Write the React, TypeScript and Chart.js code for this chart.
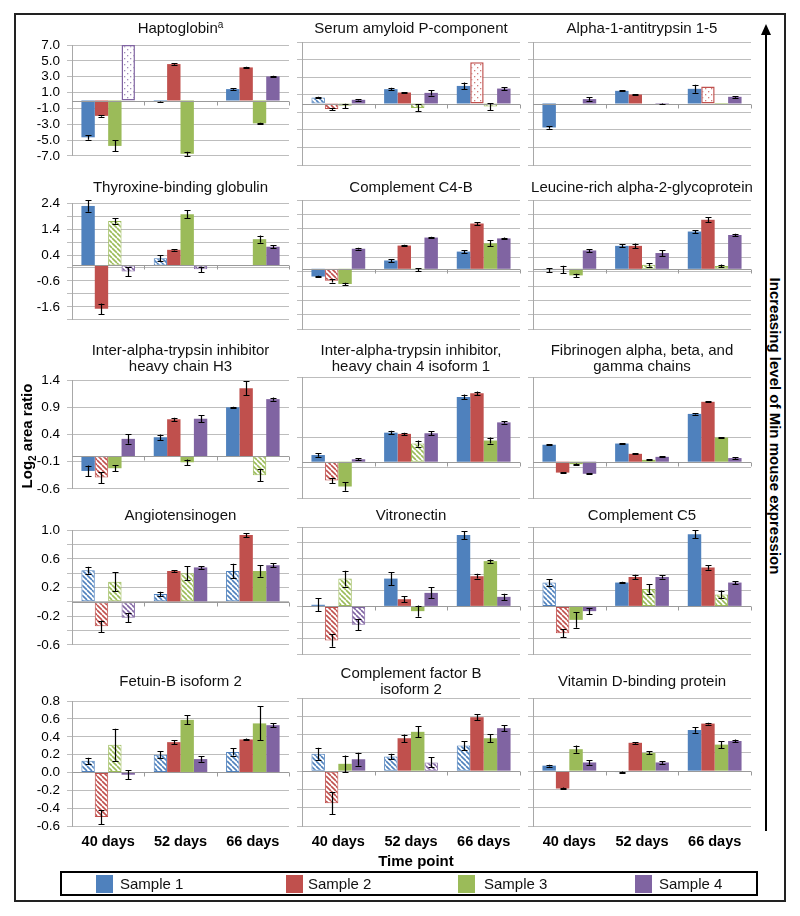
import React, { useEffect, useRef } from 'react';
import { Chart, registerables } from 'chart.js';

Chart.register(...registerables);

const FONT = "'Liberation Sans', Arial, Helvetica, sans-serif";

// ---------- data ----------
const timePoints = ['40 days', '52 days', '66 days'];
const sampleNames = ['Sample 1', 'Sample 2', 'Sample 3', 'Sample 4'];
const sampleColors = ['#4F81BD', '#C0504D', '#9BBB59', '#8064A2'];

// y-axis ticks per row of panels
const row1Ticks = [-7, -5, -3, -1, 1, 3, 5, 7];
const row1Labels = ['-7.0', '-5.0', '-3.0', '-1.0', '1.0', '3.0', '5.0', '7.0'];
const row2Ticks = [-2.1, -1.6, -1.1, -0.6, -0.1, 0.4, 0.9, 1.4, 1.9, 2.4];
const row2Labels = ['', '-1.6', '', '-0.6', '', '0.4', '', '1.4', '', '2.4'];
const row3Ticks = [-0.6, -0.1, 0.4, 0.9, 1.4];
const row3Labels = ['-0.6', '-0.1', '0.4', '0.9', '1.4'];
const row4Ticks = [-0.6, -0.4, -0.2, 0, 0.2, 0.4, 0.6, 0.8, 1.0];
const row4Labels = ['-0.6', '', '-0.2', '', '0.2', '', '0.6', '', '1.0'];
const row5Ticks = [-0.6, -0.4, -0.2, 0, 0.2, 0.4, 0.6, 0.8];
const row5Labels = ['-0.6', '-0.4', '-0.2', '0.0', '0.2', '0.4', '0.6', '0.8'];

// values[sample][timePoint], errors (±), fill kind: s = solid, h = hatched, d = dotted
const haptoglobinValues = [[-4.65, -0.19, 1.44], [-1.94, 4.6, 4.18], [-5.74, -6.73, -2.89], [7.0, null, 3.04]];
const haptoglobinErrors = [[0.3, 0.05, 0.08], [0.12, 0.08, 0.08], [0.7, 0.25, 0.08], [0, 0, 0.08]];
const haptoglobinFills = [['s', 's', 's'], ['s', 's', 's'], ['s', 's', 's'], ['d', 's', 's']];

const serumAmyloidValues = [[0.68, 1.63, 2.0], [-0.64, 1.25, 4.7], [-0.27, -0.5, -0.35], [0.42, 1.21, 1.7]];
const serumAmyloidErrors = [[0.1, 0.15, 0.38], [0.1, 0.05, 0], [0.25, 0.4, 0.4], [0.08, 0.3, 0.15]];
const serumAmyloidFills = [['h', 's', 's'], ['h', 's', 'd'], ['h', 'h', 'h'], ['s', 's', 's']];

const antitrypsinValues = [[-2.73, 1.44, 1.67], [null, 1.02, 1.93], [null, null, -0.15], [0.5, -0.05, 0.76]];
const antitrypsinErrors = [[0.15, 0.06, 0.45], [0, 0.04, 0], [0, 0, 0], [0.2, 0.04, 0.1]];
const antitrypsinFills = [['s', 's', 's'], ['s', 's', 'd'], ['s', 's', 's'], ['s', 's', 's']];

const thyroxineValues = [[2.29, 0.28, null], [-1.67, 0.6, null], [1.71, 1.97, 1.01], [-0.24, -0.15, 0.72]];
const thyroxineErrors = [[0.22, 0.12, 0], [0.2, 0.03, 0], [0.11, 0.15, 0.14], [0.18, 0.1, 0.05]];
const thyroxineFills = [['s', 'h', 's'], ['s', 's', 's'], ['h', 's', 's'], ['h', 'h', 's']];

const c4bValues = [[-0.27, 0.29, 0.6], [-0.42, 0.81, 1.58], [-0.53, -0.03, 0.89], [0.7, 1.09, 1.06]];
const c4bErrors = [[0.03, 0.05, 0.05], [0.06, 0.03, 0.05], [0.04, 0.05, 0.1], [0.03, 0.03, 0.03]];
const c4bFills = [['s', 's', 's'], ['h', 's', 's'], ['s', 's', 's'], ['s', 's', 's']];

const leucineValues = [[-0.05, 0.8, 1.3], [-0.02, 0.8, 1.71], [-0.23, 0.14, 0.1], [0.64, 0.55, 1.18]];
const leucineErrors = [[0.07, 0.05, 0.05], [0.13, 0.08, 0.08], [0.06, 0.06, 0.05], [0.05, 0.1, 0.04]];
const leucineFills = [['h', 's', 's'], ['h', 's', 's'], ['s', 'h', 'h'], ['s', 's', 's']];

const itih3Values = [[-0.27, 0.35, 0.9], [-0.39, 0.68, 1.25], [-0.22, -0.11, -0.35], [0.32, 0.69, 1.05]];
const itih3Errors = [[0.1, 0.05, 0.01], [0.1, 0.03, 0.13], [0.06, 0.05, 0.11], [0.09, 0.06, 0.03]];
const itih3Fills = [['s', 's', 's'], ['h', 's', 's'], ['s', 's', 'h'], ['s', 's', 's']];

const itih4Values = [[0.11, 0.48, 1.07], [-0.31, 0.46, 1.13], [-0.41, 0.3, 0.35], [0.04, 0.47, 0.65]];
const itih4Errors = [[0.03, 0.03, 0.04], [0.04, 0.02, 0.03], [0.07, 0.05, 0.05], [0.02, 0.03, 0.02]];
const itih4Fills = [['s', 's', 's'], ['h', 's', 's'], ['s', 'h', 's'], ['s', 's', 's']];

const fibrinogenValues = [[0.28, 0.3, 0.79], [-0.18, 0.13, 0.99], [-0.04, 0.03, 0.4], [-0.2, 0.08, 0.06]];
const fibrinogenErrors = [[0.01, 0.01, 0.01], [0.01, 0.01, 0.01], [0.01, 0.01, 0.01], [0.01, 0.01, 0.01]];
const fibrinogenFills = [['s', 's', 's'], ['s', 's', 's'], ['s', 's', 's'], ['s', 's', 's']];

const angiotensinogenValues = [[0.44, 0.11, 0.43], [-0.34, 0.43, 0.93], [0.28, 0.4, 0.43], [-0.22, 0.48, 0.51]];
const angiotensinogenErrors = [[0.05, 0.03, 0.1], [0.08, 0.01, 0.03], [0.13, 0.1, 0.08], [0.06, 0.02, 0.03]];
const angiotensinogenFills = [['h', 'h', 'h'], ['h', 's', 's'], ['h', 'h', 's'], ['h', 's', 's']];

const vitronectinValues = [[0.02, 0.35, 0.9], [-0.43, 0.09, 0.38], [0.35, -0.06, 0.57], [-0.23, 0.17, 0.12]];
const vitronectinErrors = [[0.08, 0.08, 0.05], [0.08, 0.04, 0.03], [0.1, 0.07, 0.02], [0.07, 0.07, 0.04]];
const vitronectinFills = [['s', 's', 's'], ['h', 's', 's'], ['h', 's', 's'], ['h', 's', 's']];

const c5Values = [[0.3, 0.3, 0.91], [-0.34, 0.37, 0.49], [-0.17, 0.22, 0.15], [-0.06, 0.37, 0.3]];
const c5Errors = [[0.04, 0.01, 0.05], [0.05, 0.03, 0.03], [0.1, 0.06, 0.05], [0.04, 0.02, 0.02]];
const c5Fills = [['h', 's', 's'], ['h', 's', 's'], ['s', 'h', 'h'], ['s', 's', 's']];

const fetuinValues = [[0.13, 0.2, 0.23], [-0.5, 0.34, 0.37], [0.31, 0.59, 0.55], [-0.025, 0.15, 0.53]];
const fetuinErrors = [[0.035, 0.04, 0.04], [0.08, 0.02, 0.01], [0.18, 0.05, 0.19], [0.05, 0.03, 0.02]];
const fetuinFills = [['h', 'h', 'h'], ['h', 's', 's'], ['h', 's', 's'], ['s', 's', 's']];

const factorBValues = [[0.19, 0.16, 0.28], [-0.35, 0.36, 0.59], [0.08, 0.43, 0.36], [0.13, 0.095, 0.47]];
const factorBErrors = [[0.065, 0.03, 0.05], [0.12, 0.04, 0.03], [0.09, 0.06, 0.045], [0.07, 0.055, 0.035]];
const factorBFills = [['h', 'h', 'h'], ['h', 's', 's'], ['s', 's', 's'], ['s', 'h', 's']];

const vitaminDValues = [[0.06, -0.01, 0.45], [-0.19, 0.31, 0.52], [0.24, 0.2, 0.29], [0.095, 0.095, 0.33]];
const vitaminDErrors = [[0.01, 0.005, 0.03], [0.01, 0.01, 0.01], [0.04, 0.015, 0.04], [0.025, 0.015, 0.015]];
const vitaminDFills = [['s', 's', 's'], ['s', 's', 's'], ['s', 's', 's'], ['s', 's', 's']];

const rowTicks = [row1Ticks, row2Ticks, row3Ticks, row4Ticks, row5Ticks];
const rowLabels = [row1Labels, row2Labels, row3Labels, row4Labels, row5Labels];

const panels = [
  { title: ['Haptoglobin'], sup: 'a', values: haptoglobinValues, errors: haptoglobinErrors, fills: haptoglobinFills, row: 0, col: 0 },
  { title: ['Serum amyloid P-component'], values: serumAmyloidValues, errors: serumAmyloidErrors, fills: serumAmyloidFills, row: 0, col: 1 },
  { title: ['Alpha-1-antitrypsin 1-5'], values: antitrypsinValues, errors: antitrypsinErrors, fills: antitrypsinFills, row: 0, col: 2 },
  { title: ['Thyroxine-binding globulin'], values: thyroxineValues, errors: thyroxineErrors, fills: thyroxineFills, row: 1, col: 0 },
  { title: ['Complement C4-B'], values: c4bValues, errors: c4bErrors, fills: c4bFills, row: 1, col: 1 },
  { title: ['Leucine-rich alpha-2-glycoprotein'], values: leucineValues, errors: leucineErrors, fills: leucineFills, row: 1, col: 2 },
  { title: ['Inter-alpha-trypsin inhibitor', 'heavy chain H3'], values: itih3Values, errors: itih3Errors, fills: itih3Fills, row: 2, col: 0 },
  { title: ['Inter-alpha-trypsin inhibitor,', 'heavy chain 4 isoform 1'], values: itih4Values, errors: itih4Errors, fills: itih4Fills, row: 2, col: 1 },
  { title: ['Fibrinogen alpha, beta, and', 'gamma chains'], values: fibrinogenValues, errors: fibrinogenErrors, fills: fibrinogenFills, row: 2, col: 2 },
  { title: ['Angiotensinogen'], values: angiotensinogenValues, errors: angiotensinogenErrors, fills: angiotensinogenFills, row: 3, col: 0 },
  { title: ['Vitronectin'], values: vitronectinValues, errors: vitronectinErrors, fills: vitronectinFills, row: 3, col: 1 },
  { title: ['Complement C5'], values: c5Values, errors: c5Errors, fills: c5Fills, row: 3, col: 2 },
  { title: ['Fetuin-B isoform 2'], values: fetuinValues, errors: fetuinErrors, fills: fetuinFills, row: 4, col: 0 },
  { title: ['Complement factor B', 'isoform 2'], values: factorBValues, errors: factorBErrors, fills: factorBFills, row: 4, col: 1 },
  { title: ['Vitamin D-binding protein'], values: vitaminDValues, errors: vitaminDErrors, fills: vitaminDFills, row: 4, col: 2 },
];

// ---------- layout ----------
const COL_L = [72, 302, 533];
const COL_R = [289, 520, 751];
const ROW_T = [42, 200, 377, 527, 698];
const ROW_B = [165, 329, 498, 654, 826];
const TITLE_C = [28, 187, 358, 515, 681];
const LEGEND_SWATCH_X = [96, 286, 458, 635];
const LEGEND_TEXT_X = [120, 308, 484, 659];

function makePattern(color: string, kind: string): CanvasPattern | string {
  const c = document.createElement('canvas');
  const s = kind === 'h' ? 5 : 6;
  c.width = s;
  c.height = s;
  const g = c.getContext('2d');
  if (!g) return color;
  g.fillStyle = '#ffffff';
  g.fillRect(0, 0, s, s);
  if (kind === 'h') {
    g.strokeStyle = color;
    g.lineWidth = 1.6;
    g.beginPath();
    for (const k of [-s, 0, s]) {
      g.moveTo(k, 0);
      g.lineTo(k + s, s);
    }
    g.stroke();
  } else {
    g.fillStyle = color;
    g.globalAlpha = 0.75;
    g.fillRect(1, 1, 1.3, 1.3);
    g.fillRect(4, 4, 1.3, 1.3);
  }
  return g.createPattern(c, 'repeat') || color;
}

function Panel({ def }: { def: any }) {
  const ref = useRef<HTMLCanvasElement>(null);
  const L = COL_L[def.col];
  const R = COL_R[def.col];
  const T = ROW_T[def.row];
  const B = ROW_B[def.row];
  const yw = def.col === 0 ? 60 : 6;
  const PT = 12;
  const PR = 6;
  const xh = def.row === 4 ? 30 : 6;
  const w = R - L + yw + PR;
  const h = B - T + PT + xh;

  useEffect(() => {
    const canvas = ref.current;
    if (!canvas) return;
    const ticks = rowTicks[def.row];
    const labels = rowLabels[def.row];

    const zeroLine = {
      id: 'zeroLine',
      afterDatasetsDraw(chart: any) {
        const { ctx, chartArea, scales } = chart;
        const y0 = Math.round(scales.y.getPixelForValue(0)) + 0.5;
        ctx.save();
        ctx.strokeStyle = '#9a9a9a';
        ctx.lineWidth = 1;
        ctx.beginPath();
        ctx.moveTo(chartArea.left, y0);
        ctx.lineTo(chartArea.right, y0);
        const n = timePoints.length;
        for (let i = 1; i <= n; i++) {
          const xb = Math.round(chartArea.left + ((chartArea.right - chartArea.left) * i) / n) + 0.5;
          ctx.moveTo(xb, y0);
          ctx.lineTo(xb, y0 + 4);
        }
        ctx.stroke();
        ctx.restore();
      },
    };

    const errorBars = {
      id: 'errorBars',
      afterDatasetsDraw(chart: any) {
        const { ctx, scales } = chart;
        ctx.save();
        ctx.strokeStyle = '#000';
        ctx.lineWidth = 1.2;
        def.values.forEach((series: any[], s: number) => {
          const meta = chart.getDatasetMeta(s);
          series.forEach((v: number | null, j: number) => {
            const e = def.errors[s][j];
            if (v === null || !e) return;
            const bar = meta.data[j];
            if (!bar) return;
            const x = Math.round(bar.x) + 0.5;
            const yt = scales.y.getPixelForValue(v + e);
            const yb = scales.y.getPixelForValue(v - e);
            ctx.beginPath();
            ctx.moveTo(x, yt);
            ctx.lineTo(x, yb);
            ctx.moveTo(x - 3, Math.round(yt) + 0.5);
            ctx.lineTo(x + 3, Math.round(yt) + 0.5);
            ctx.moveTo(x - 3, Math.round(yb) + 0.5);
            ctx.lineTo(x + 3, Math.round(yb) + 0.5);
            ctx.stroke();
          });
        });
        ctx.restore();
      },
    };

    const chart = new Chart(canvas, {
      type: 'bar',
      data: {
        labels: timePoints,
        datasets: sampleNames.map((name, s) => ({
          label: name,
          data: def.values[s],
          backgroundColor: def.fills[s].map((f: string) => (f === 's' ? sampleColors[s] : makePattern(sampleColors[s], f))),
          borderColor: def.fills[s].map((f: string) => (f === 's' ? 'rgba(0,0,0,0)' : sampleColors[s])),
          borderWidth: def.fills[s].map((f: string) => (f === 's' ? 0 : f === 'd' ? 1.5 : 1)),
          borderSkipped: false,
          categoryPercentage: 0.74,
          barPercentage: 1.0,
        })),
      },
      options: {
        responsive: false,
        animation: false,
        events: [],
        layout: { padding: { top: PT, right: PR, left: 0, bottom: 0 } },
        plugins: {
          legend: { display: false },
          tooltip: { enabled: false },
          title: { display: false },
        },
        scales: {
          x: {
            type: 'category',
            offset: true,
            grid: { display: false, drawTicks: false },
            border: { display: false },
            ticks: {
              display: def.row === 4,
              color: '#000',
              font: { family: FONT, size: 14.5, weight: 'bold' },
              padding: 7,
              maxRotation: 0,
              autoSkip: false,
            },
            afterFit: (sc: any) => {
              sc.height = xh;
            },
          },
          y: {
            type: 'linear',
            min: ticks[0],
            max: ticks[ticks.length - 1],
            afterBuildTicks: (sc: any) => {
              sc.ticks = ticks.map((v) => ({ value: v }));
            },
            ticks: {
              display: def.col === 0,
              autoSkip: false,
              color: '#000',
              font: { family: FONT, size: 13.5 },
              padding: 7,
              callback: (_v: any, i: number) => labels[i],
            },
            grid: { color: '#bdbdbd', lineWidth: 1, tickLength: 5, drawTicks: true },
            border: { display: true, color: '#a8a8a8', width: 1 },
            afterFit: (sc: any) => {
              sc.width = yw;
            },
          },
        },
      } as any,
      plugins: [zeroLine, errorBars],
    });
    return () => chart.destroy();
  }, []);

  const lineH = 16;
  return (
    <>
      <canvas
        ref={ref}
        width={w}
        height={h}
        style={{ position: 'absolute', left: L - yw, top: T - PT, width: w, height: h }}
      />
      <div
        style={{
          position: 'absolute',
          left: L - 10,
          width: R - L + 20,
          top: TITLE_C[def.row] - (def.title.length * lineH) / 2,
          lineHeight: lineH + 'px',
          fontSize: 15,
          fontFamily: FONT,
          textAlign: 'center',
          color: '#111',
          whiteSpace: 'nowrap',
        }}
      >
        {def.title.map((t: string, i: number) => (
          <div key={i}>
            {t}
            {i === 0 && def.sup ? (
              <span style={{ fontSize: 10, position: 'relative', top: -5 }}>{def.sup}</span>
            ) : null}
          </div>
        ))}
      </div>
    </>
  );
}

export default function App() {
  return (
    <div
      style={{
        position: 'absolute',
        left: 0,
        top: 0,
        width: 800,
        height: 916,
        background: '#fff',
        fontFamily: FONT,
        overflow: 'hidden',
      }}
    >
      {/* outer frame */}
      <div
        style={{
          position: 'absolute',
          left: 14,
          top: 13,
          width: 772,
          height: 889,
          border: '2px solid #222',
          boxSizing: 'border-box',
        }}
      />
      {panels.map((p, i) => (
        <Panel key={i} def={p} />
      ))}
      {/* y-axis title */}
      <div
        style={{
          position: 'absolute',
          left: 27 - 90,
          top: 436 - 10,
          width: 180,
          height: 20,
          lineHeight: '20px',
          textAlign: 'center',
          fontSize: 15,
          fontWeight: 'bold',
          color: '#000',
          transform: 'rotate(-90deg)',
          whiteSpace: 'nowrap',
        }}
      >
        Log<sub style={{ fontSize: 10, verticalAlign: 'baseline', position: 'relative', top: 4 }}>2</sub> area ratio
      </div>
      {/* x-axis title */}
      <div
        style={{
          position: 'absolute',
          left: 316,
          width: 200,
          top: 851,
          lineHeight: '20px',
          textAlign: 'center',
          fontSize: 15,
          fontWeight: 'bold',
          color: '#000',
        }}
      >
        Time point
      </div>
      {/* arrow */}
      <div style={{ position: 'absolute', left: 765, top: 32, width: 2, height: 799, background: '#000' }} />
      <div
        style={{
          position: 'absolute',
          left: 761,
          top: 24,
          width: 0,
          height: 0,
          borderLeft: '5px solid transparent',
          borderRight: '5px solid transparent',
          borderBottom: '11px solid #000',
        }}
      />
      <div
        style={{
          position: 'absolute',
          left: 775 - 170,
          top: 426 - 10,
          width: 340,
          height: 20,
          lineHeight: '20px',
          textAlign: 'center',
          fontSize: 15,
          fontWeight: 'bold',
          color: '#000',
          transform: 'rotate(90deg)',
          whiteSpace: 'nowrap',
        }}
      >
        Increasing level of Min mouse expression
      </div>
      {/* legend */}
      <div
        style={{
          position: 'absolute',
          left: 60,
          top: 871,
          width: 698,
          height: 25,
          border: '2px solid #000',
          boxSizing: 'border-box',
        }}
      />
      {sampleNames.map((name, i) => (
        <React.Fragment key={name}>
          <div
            style={{
              position: 'absolute',
              left: LEGEND_SWATCH_X[i],
              top: 875,
              width: 17,
              height: 18,
              background: sampleColors[i],
            }}
          />
          <div
            style={{
              position: 'absolute',
              left: LEGEND_TEXT_X[i],
              top: 874,
              lineHeight: '20px',
              fontSize: 15,
              color: '#111',
              whiteSpace: 'nowrap',
            }}
          >
            {name}
          </div>
        </React.Fragment>
      ))}
    </div>
  );
}
